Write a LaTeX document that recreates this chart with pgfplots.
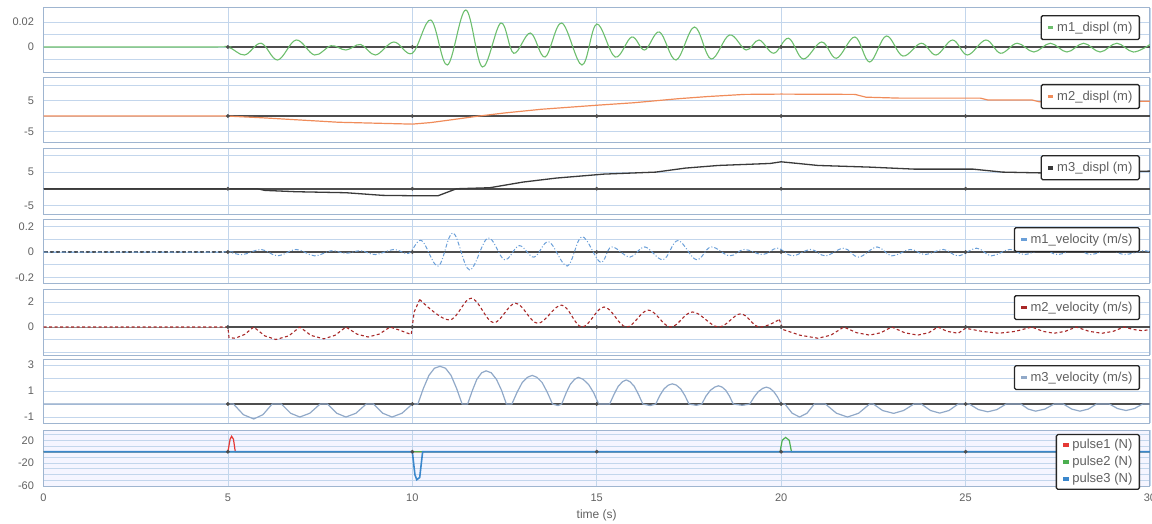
\documentclass[border=0pt]{standalone}
\usepackage{pgfplots}
\pgfplotsset{compat=1.18}
\usepackage{fontspec}
\setmainfont{Liberation Sans}

\definecolor{gridblue}{HTML}{C3D6EC}
\definecolor{framecol}{HTML}{9FB5D0}
\definecolor{ticktext}{HTML}{606060}
\definecolor{zeroline}{HTML}{4D4D4D}
\definecolor{cmad}{HTML}{6DBE6D}
\definecolor{cmbd}{HTML}{F08C5A}
\definecolor{cmcd}{HTML}{3A3A3A}
\definecolor{cmav}{HTML}{6A9FD8}
\definecolor{cmbv}{HTML}{A82828}
\definecolor{cmcv}{HTML}{91A9C8}
\definecolor{cpa}{HTML}{E53935}
\definecolor{cpb}{HTML}{4CAF50}
\definecolor{cpc}{HTML}{3B87CC}

\pgfplotsset{
  panel/.style={
    scale only axis, width=1106.5pt,
    xmin=0, xmax=30, xtick={0,5,...,30}, xticklabels={},
    grid=major, major grid style={gridblue, line width=0.8pt},
    tick style={draw=none},
    axis line style={framecol, line width=1pt},
    scaled y ticks=false,
    yticklabel style={font=\fontsize{11}{13}\selectfont, text=ticktext, xshift=-6pt},
    xticklabel style={font=\fontsize{11}{13}\selectfont, text=ticktext, yshift=-4pt},
    legend style={anchor=north east, draw=black!85, line width=1.3pt, rounded corners=1.5pt,
      font=\fontsize{13}{15}\selectfont, text=ticktext, inner xsep=5pt, inner ysep=4.5pt},
    legend cell align=left,
    legend image code/.code={\draw[#1, solid, line width=3.5pt] (0pt,0pt) -- (5.5pt,0pt);},
  },
  zero/.style={forget plot, zeroline, line width=2.2pt},
  zdots/.style={forget plot, only marks, mark=*, mark size=1.7pt, zeroline},
}

\begin{document}
\begin{tikzpicture}
\path[use as bounding box] (0,0) rectangle (1152pt,523pt);

% panel 1: m1 displacement
\begin{axis}[panel, at={(43.5pt,450pt)}, anchor=south west, height=65pt,
  ymin=-0.0208, ymax=0.0312, ytick={-0.01,0,0.01,0.02}, yticklabels={,0,,0.02},
  legend style={at={(0.991,0.892)}}]
\addplot[zero] coordinates {(5,0) (30,0)};
\addplot[zdots] coordinates {(5,0) (10,0) (15,0) (20,0) (25,0)};
\addplot[cmad, line width=1.1pt, smooth, tension=0.6] coordinates {
 (0,0) (4.5,0) (5,0) (5.45,-0.0064) (5.9,0.003) (6.35,-0.0104) (6.85,0.0056) (7.35,-0.0064)
 (7.8,0.001) (8.2,-0.0024) (8.6,0.002) (9.0,-0.0064) (9.5,0.004) (10.0,-0.005) (10.5,0.0216)
 (10.95,-0.0144) (11.45,0.0296) (11.9,-0.016) (12.4,0.0192) (12.75,-0.005) (13.2,0.0112)
 (13.6,-0.008) (14.05,0.0192) (14.6,-0.0144) (15.0,0.0184) (15.5,-0.008) (15.95,0.008)
 (16.3,-0.0024) (16.7,0.012) (17.15,-0.0104) (17.65,0.016) (18.1,-0.0096) (18.6,0.0096)
 (19.05,-0.0024) (19.4,0.0056) (19.8,-0.005) (20.2,0.007) (20.6,-0.0096) (21.1,0.004)
 (21.5,-0.009) (22.0,0.008) (22.4,-0.012) (22.85,0.0088) (23.3,-0.0072) (23.8,0.003)
 (24.2,-0.0064) (24.65,0.0056) (25.05,-0.0064) (25.55,0.0056) (25.95,-0.005) (26.4,0.003)
 (26.85,-0.004) (27.3,0.003) (27.75,-0.004) (28.2,0.003) (28.65,-0.004) (29.1,0.003)
 (29.55,-0.004) (30,0.002)};
\addlegendentry{m1\_displ (m)}
\end{axis}

% panel 2: m2 displacement
\begin{axis}[panel, at={(43.5pt,380pt)}, anchor=south west, height=65pt,
  ymin=-8.7, ymax=12.3, ytick={-5,0,5,10}, yticklabels={-5,,5,},
  legend style={at={(0.991,0.908)}}]
\addplot[zero] coordinates {(5,0) (30,0)};
\addplot[zdots] coordinates {(5,0) (10,0) (15,0) (20,0) (25,0)};
\addplot[cmbd, line width=1.2pt] coordinates {
 (0,0) (5,0) (6,-0.6) (7,-1.3) (8,-2.0) (9,-2.3) (10,-2.6) (10.5,-2.1) (11,-1.3) (11.8,0)
 (12.5,1.0) (13.5,2.2) (15,3.5) (16,4.3) (17.2,5.6) (18,6.3) (19,7.0) (20,7.1) (22,7.0)
 (22.3,6.1) (23.2,5.8) (25.4,5.8) (25.6,5.2) (26.8,5.2) (27,4.6) (28,4.6) (30,4.8)};
\addlegendentry{m2\_displ (m)}
\end{axis}

% panel 3: m3 displacement
\begin{axis}[panel, at={(43.5pt,308pt)}, anchor=south west, height=66.5pt,
  ymin=-7.9, ymax=12.1, ytick={-5,0,5,10}, yticklabels={-5,,5,},
  legend style={at={(0.991,0.90)}}]
\addplot[zero] coordinates {(0,0) (30,0)};
\addplot[zdots] coordinates {(5,0) (10,0) (15,0) (20,0) (25,0)};
\addplot[cmcd, line width=1.3pt] coordinates {
 (0,0) (5.8,0) (6,-0.5) (6.85,-0.9) (8.2,-1.2) (9.2,-2.0) (10,-2.1) (10.7,-2.1) (11.2,0)
 (12.1,0.3) (13,2) (13.9,3.2) (15.2,4.4) (16.6,5) (17.4,6.2) (18.3,7) (19.7,7.6) (20,8.1)
 (21,7) (22.4,6.5) (23.6,5.9) (25.2,5.9) (26,5) (27.3,4.7) (28.5,5) (30,5.3)};
\addlegendentry{m3\_displ (m)}
\end{axis}

% panel 4: m1 velocity
\begin{axis}[panel, at={(43.5pt,240pt)}, anchor=south west, height=64pt,
  ymin=-0.243, ymax=0.259, ytick={-0.2,-0.1,0,0.1,0.2}, yticklabels={-0.2,,0,,0.2},
  legend style={at={(0.991,0.875)}}]
\addplot[zero] coordinates {(5,0) (30,0)};
\addplot[forget plot, zeroline, line width=1.6pt, dash pattern=on 4pt off 2pt] coordinates {(0,0) (5,0)};
\addplot[zdots] coordinates {(5,0) (10,0) (15,0) (20,0) (25,0)};
\addplot[cmav, line width=1pt, smooth, tension=0.6, dash pattern=on 4pt off 2pt on 1pt off 2pt] coordinates {
 (0,0) (4.6,0) (5,0) (5.4,-0.02) (5.9,0.02) (6.35,-0.03) (6.85,0.02) (7.35,-0.03) (7.8,0.01)
 (8.2,-0.01) (8.6,0.01) (9.0,-0.02) (9.5,0.02) (9.9,-0.01) (10.25,0.09) (10.7,-0.11) (11.1,0.15)
 (11.55,-0.14) (12.05,0.11) (12.5,-0.06) (12.9,0.05) (13.3,-0.04) (13.7,0.08) (14.2,-0.11)
 (14.6,0.12) (15.1,-0.08) (15.4,0.04) (15.9,-0.04) (16.3,0.04) (16.8,-0.06) (17.2,0.09)
 (17.7,-0.06) (18.1,0.04) (18.6,-0.03) (19.0,0.02) (19.5,-0.02) (19.9,0.03) (20.3,-0.03)
 (20.8,0.02) (21.2,-0.03) (21.7,0.03) (22.1,-0.04) (22.6,0.04) (23.0,-0.03) (23.5,0.02)
 (23.9,-0.02) (24.4,0.02) (24.8,-0.03) (25.3,0.03) (25.7,-0.03) (26.2,0.02) (26.6,-0.02)
 (27.1,0.02) (27.5,-0.02) (28.0,0.02) (28.4,-0.02) (28.9,0.02) (29.3,-0.02) (29.8,0.01) (30,0)};
\addlegendentry{m1\_velocity (m/s)}
\end{axis}

% panel 5: m2 velocity
\begin{axis}[panel, at={(43.5pt,168pt)}, anchor=south west, height=66pt,
  ymin=-2.24, ymax=3.04, ytick={-2,-1,0,1,2,3}, yticklabels={,,0,,2,},
  legend style={at={(0.991,0.909)}}]
\addplot[zero] coordinates {(5,0) (30,0)};
\addplot[forget plot, zeroline!60, line width=1pt] coordinates {(0,0) (5,0)};
\addplot[zdots] coordinates {(5,0) (10,0) (15,0) (20,0) (25,0)};
\addplot[cmbv, line width=1.1pt, dash pattern=on 3pt off 2.5pt] coordinates {
 (0,0) (5,0) (5.03,-0.85) (5.2,-0.9) (5.45,-0.6) (5.7,0) (6.0,-0.71) (6.3,-1.0) (6.65,-0.71)
 (6.95,0) (7.25,-0.67) (7.6,-0.95) (7.9,-0.67) (8.2,0) (8.5,-0.57) (8.8,-0.8) (9.1,-0.57)
 (9.4,0) (9.65,-0.25) (9.97,-0.6) (10.05,1.2) (10.2,2.2)};
\addlegendentry{m2\_velocity (m/s)}
\addplot[forget plot, cmbv, line width=1.1pt, dash pattern=on 3pt off 2.5pt, smooth, tension=0.6] coordinates {
 (10.2,2.2) (11.0,0.56) (11.6,2.3) (12.2,0.35) (12.8,1.9) (13.4,0.3) (14.05,1.75) (14.6,0)
 (15.2,1.6) (15.8,0) (16.4,1.35) (17.0,0) (17.6,1.2) (18.3,0) (18.9,1.05) (19.4,0) (19.95,0.6)};
\addplot[forget plot, cmbv, line width=1.1pt, dash pattern=on 3pt off 2.5pt] coordinates {
 (19.95,0.6) (20.05,-0.2) (20.5,-0.65) (21.0,-0.9) (21.35,-0.65) (21.7,0) (22.05,-0.46)
 (22.4,-0.65) (22.7,-0.46) (23.0,0) (23.35,-0.46) (23.7,-0.65) (24.0,-0.46) (24.25,0)
 (24.5,-0.35) (24.8,-0.5) (25.0,-0.1) (25.45,-0.35) (25.9,-0.5) (26.35,-0.35) (26.8,0)
 (27.1,-0.35) (27.4,-0.5) (27.7,-0.35) (28.0,0) (28.35,-0.35) (28.7,-0.5) (29.0,-0.35)
 (29.3,0) (29.55,-0.2) (29.8,-0.3) (30,-0.2)};
\end{axis}

% panel 6: m3 velocity
\begin{axis}[panel, at={(43.5pt,100pt)}, anchor=south west, height=64pt,
  ymin=-1.46, ymax=3.46, ytick={-1,0,1,2,3}, yticklabels={-1,,1,,3},
  legend style={at={(0.991,0.906)}}]
\addplot[zero] coordinates {(5,0) (30,0)};
\addplot[zdots] coordinates {(5,0) (10,0) (15,0) (20,0) (25,0)};
\addplot[cmcv, line width=1.2pt] coordinates {
 (0,0) (5.15,0) (5.42,-0.82) (5.7,-1.15) (5.95,-0.82) (6.2,0) (6.45,0) (6.7,-0.71) (6.95,-1.0)
 (7.22,-0.71) (7.5,0) (7.7,0) (7.95,-0.71) (8.2,-1.0) (8.47,-0.71) (8.75,0) (8.95,0)
 (9.2,-0.71) (9.45,-1.0) (9.72,-0.71) (10.0,0) (10.15,0) (10.3,1.2) (10.45,2.2) (10.6,2.75)
 (10.75,2.9) (10.9,2.75) (11.05,2.2) (11.2,1.2) (11.35,0) (11.5,0) (11.63,1.05) (11.75,1.9)
 (11.88,2.4) (12.0,2.55) (12.14,2.4) (12.28,1.9) (12.42,1.05) (12.55,0) (12.7,0) (12.84,0.9)
 (12.98,1.65) (13.12,2.05) (13.25,2.2) (13.38,2.05) (13.52,1.65) (13.66,0.9) (13.8,0)
 (13.95,-0.12) (14.05,0) (14.17,0.85) (14.28,1.5) (14.4,1.9) (14.5,2.05) (14.63,1.9)
 (14.78,1.5) (14.92,0.85) (15.05,0) (15.35,0) (15.47,0.75) (15.58,1.35) (15.7,1.72) (15.8,1.85)
 (15.9,1.72) (16.02,1.35) (16.13,0.75) (16.25,0) (16.45,-0.12) (16.6,0) (16.71,0.65)
 (16.82,1.15) (16.94,1.45) (17.05,1.55) (17.16,1.45) (17.28,1.15) (17.39,0.65) (17.5,0)
 (17.7,-0.1) (17.85,0) (17.96,0.6) (18.08,1.05) (18.2,1.3) (18.3,1.4) (18.4,1.3) (18.5,1.05)
 (18.6,0.6) (18.7,0) (18.95,-0.1) (19.15,0) (19.27,0.55) (19.38,0.95) (19.5,1.2) (19.6,1.3)
 (19.7,1.2) (19.8,0.95) (19.9,0.55) (20.0,0) (20.1,0) (20.3,-0.71) (20.5,-1.0) (20.7,-0.71)
 (20.9,0) (21.2,0) (21.5,-0.71) (21.8,-1.0) (22.1,-0.71) (22.4,0) (22.5,0) (22.75,-0.5)
 (23.05,-0.72) (23.32,-0.5) (23.6,0) (23.8,0) (24.05,-0.5) (24.3,-0.7) (24.55,-0.5) (24.8,0)
 (25.1,0) (25.35,-0.43) (25.6,-0.6) (25.85,-0.43) (26.1,0) (26.5,0) (26.7,-0.39) (26.9,-0.55)
 (27.15,-0.39) (27.4,0) (27.65,0) (27.88,-0.39) (28.1,-0.55) (28.33,-0.39) (28.55,0) (28.9,0)
 (29.12,-0.35) (29.35,-0.5) (29.58,-0.35) (29.8,0) (30,0)};
\addlegendentry{m3\_velocity (m/s)}
\end{axis}

% panel 7: pulses
\begin{axis}[panel, at={(43.5pt,37pt)}, anchor=south west, height=56pt,
  ymin=-60, ymax=38, ytick={-60,-50,...,30}, yticklabels={-60,,,,-20,,,,20,},
  axis background/.style={fill=blue!4},
  xticklabels={0,5,10,15,20,25,30},
  xlabel={time (s)}, xlabel style={font=\fontsize{12}{14}\selectfont, text=ticktext, yshift=-2pt},
  legend style={at={(0.991,0.93)}, row sep=2pt, inner ysep=3pt}]
\addplot[cpa, line width=1.2pt] coordinates {
 (0,0) (5.0,0) (5.06,22) (5.1,27) (5.15,22) (5.2,0) (30,0)};
\addlegendentry{pulse1 (N)}
\addplot[cpb, line width=1.2pt] coordinates {
 (0,0) (19.97,0) (20.03,20) (20.12,25) (20.22,20) (20.28,0) (30,0)};
\addlegendentry{pulse2 (N)}
\addplot[cpc, line width=1.6pt] coordinates {
 (0,0) (10.0,0) (10.07,-40) (10.12,-49) (10.2,-45) (10.28,0) (19.95,0) (20.3,0) (30,0)};
\addlegendentry{pulse3 (N)}
\addplot[zdots] coordinates {(5,0) (10,0) (15,0) (20,0) (25,0)};
\end{axis}
\end{tikzpicture}
\end{document}
